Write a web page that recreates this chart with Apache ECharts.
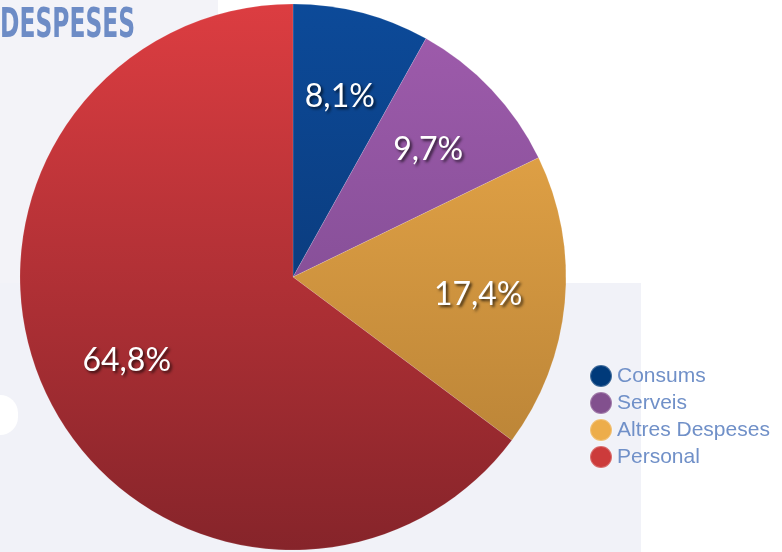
<!DOCTYPE html>
<html>
<head>
<meta charset="utf-8">
<script src="https://cdn.jsdelivr.net/npm/echarts@6/dist/echarts.min.js"></script>
<style>
html,body{margin:0;padding:0;background:#ffffff;}
#chart{width:782px;height:552px;}
</style>
</head>
<body>
<div id="chart"></div>
<script>
const categories = ['Consums', 'Serveis', 'Altres Despeses', 'Personal'];
const values = [8.1, 9.7, 17.4, 64.8];
const labels = ['8,1%', '9,7%', '17,4%', '64,8%'];
const legendColors = ['#003a7a', '#82508e', '#edad4a', '#cc3b3b'];
const topColors = ['#0c4a99', '#a05cad', '#f0ad4b', '#dc3d41'];
const bottomColors = ['#0a3066', '#6f4485', '#b07c33', '#86242a'];

function grad(i) {
  return {
    type: 'linear', x: 0, y: 4, x2: 0, y2: 550, global: true,
    colorStops: [{offset: 0, color: topColors[i]}, {offset: 1, color: bottomColors[i]}]
  };
}

const chart = echarts.init(document.getElementById('chart'), null, {renderer: 'canvas'});
const option = {
  backgroundColor: '#ffffff',
  animation: false,
  graphic: [
    {type: 'rect', z: -10, shape: {x: 0, y: 0, width: 218, height: 552}, style: {fill: '#f3f3f8'}},
    {type: 'rect', z: -10, shape: {x: 0, y: 283, width: 641, height: 269}, style: {fill: '#f1f2f8'}},
    {type: 'rect', z: -9, shape: {x: -22, y: 395, width: 40, height: 40, r: 18}, style: {fill: '#ffffff'}},
    {type: 'text', z: 10, x: 0, y: 7, scaleX: 0.585, style: {text: 'DESPESES', fill: '#6d8cc6', font: 'bold 40px "DejaVu Sans", sans-serif', textVerticalAlign: 'top'}}
  ],
  legend: {
    orient: 'vertical',
    left: 589,
    top: 364,
    padding: 0,
    icon: 'circle',
    itemWidth: 22,
    itemHeight: 22,
    itemGap: 3,
    textStyle: {color: '#7090c8', fontSize: 21, fontFamily: '"Liberation Sans", Arial, sans-serif'},
    data: categories.map((c, i) => ({name: c, itemStyle: {color: legendColors[i]}}))
  },
  series: [
    {
      type: 'pie',
      center: [293, 277],
      radius: [0, 273],
      startAngle: 90,
      clockwise: true,
      silent: true,
      label: {show: false},
      labelLine: {show: false},
      itemStyle: {borderColor: 'rgba(255,255,255,0.25)', borderWidth: 0.5},
      data: categories.map((c, i) => ({name: c, value: values[i], itemStyle: {color: grad(i)}}))
    },
    {
      type: 'pie',
      center: [293, 277],
      radius: [91, 275],
      startAngle: 90,
      clockwise: true,
      silent: true,
      z: 5,
      itemStyle: {color: 'rgba(0,0,0,0)'},
      label: {
        show: true,
        position: 'inside',
        color: '#ffffff',
        fontSize: 32,
        fontFamily: 'Lato, "Noto Sans", sans-serif',
        textShadowColor: 'rgba(0,0,0,0.7)',
        textShadowBlur: 3,
        textShadowOffsetX: 2,
        textShadowOffsetY: 2,
        formatter: p => labels[p.dataIndex]
      },
      labelLine: {show: false},
      data: categories.map((c, i) => ({name: c, value: values[i]}))
    }
  ]
};
chart.setOption(option);
</script>
</body>
</html>
